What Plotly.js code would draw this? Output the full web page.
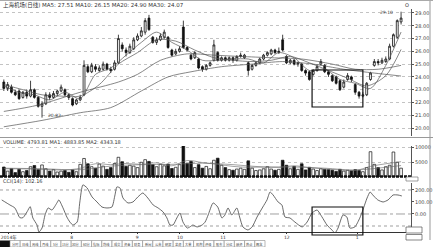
<!DOCTYPE html>
<html><head><meta charset="utf-8">
<script src="https://cdn.plot.ly/plotly-3.0.1.min.js"></script>
<style>html,body{margin:0;padding:0;background:#fff;}#chart{width:433px;height:247px;}</style>
</head><body><div id="chart"></div>
<script>
// ---- data ----
const openP = [23.6,23.1,23.2,22.8,22.9,22.4,22.8,22.5,23.0,22.4,
21.7,21.9,22.6,22.4,22.7,22.9,23.0,22.6,22.3,21.9,
22.2,22.6,24.8,24.4,24.8,24.5,24.6,25.0,24.6,24.6,
25.1,26.5,26.1,25.9,26.2,26.9,27.2,27.5,28.6,27.1,
26.7,26.9,27.1,27.1,26.1,25.8,26.0,27.9,26.3,25.7,
25.5,25.4,24.8,24.6,24.9,25.3,25.9,25.3,25.5,25.3,
25.5,25.3,25.6,25.5,25.1,24.6,24.9,25.1,25.4,25.7,
25.8,26.1,25.9,26.9,25.6,25.1,25.3,25.0,25.0,24.5,
24.4,24.2,24.5,25.0,24.9,24.4,24.1,24.0,23.7,23.2,
23.8,24.0,23.4,22.8,22.5,22.6,23.8,24.9,25.2,25.1,
25.2,25.4,26.4,27.1,28.3];
const highP = [23.8,23.6,23.4,23.0,23.0,22.9,23.0,23.7,23.1,22.5,
22.1,22.8,22.8,22.9,23.0,23.4,23.1,22.7,22.4,22.3,
22.6,25.3,25.0,25.1,25.0,24.9,25.2,25.1,24.8,25.3,
27.3,26.7,26.3,26.6,27.1,27.4,27.9,28.6,28.85,27.2,
27.1,27.4,27.7,27.2,26.2,26.2,26.4,28.4,26.4,25.8,
26.0,25.5,24.9,25.0,25.2,26.9,26.0,25.6,25.6,25.6,
25.6,25.7,25.9,25.8,25.2,25.0,25.2,25.5,25.8,26.0,
26.2,26.2,26.3,27.3,25.7,25.4,25.4,25.2,25.1,24.6,
24.5,24.6,25.0,25.4,25.0,24.5,24.2,24.1,23.8,23.8,
24.3,24.1,23.5,22.9,22.8,23.6,24.4,25.4,25.4,25.5,
25.6,26.6,27.4,28.5,29.1];
const lowP = [22.9,22.9,22.7,22.5,22.2,22.3,22.3,22.4,22.3,21.6,
20.82,21.8,22.2,22.3,22.5,22.8,22.5,22.2,21.7,21.8,
22.1,22.5,24.3,24.3,24.4,24.4,24.5,24.5,24.3,24.5,
25.0,26.0,25.6,25.8,26.1,26.8,27.1,27.3,27.6,26.6,
26.5,26.8,27.0,26.2,25.6,25.7,25.9,26.2,26.0,25.3,
25.4,24.6,24.4,24.5,24.8,25.2,25.2,25.2,25.2,25.2,
25.1,25.2,25.5,25.4,24.1,24.5,24.8,25.0,25.3,25.6,
25.7,25.8,25.8,26.0,25.0,25.0,24.9,24.8,24.4,24.1,
23.7,24.1,24.4,24.9,24.3,24.0,23.6,23.4,22.9,23.1,
23.7,23.6,22.6,22.3,22.4,22.5,23.7,24.8,24.9,25.0,
25.1,25.3,26.3,27.0,28.1];
const closeP = [23.1,23.4,22.8,22.6,22.3,22.8,22.5,23.0,22.4,21.7,
21.9,22.6,22.4,22.7,22.9,23.2,22.6,22.4,21.8,22.2,
22.4,24.9,24.4,24.9,24.6,24.7,25.0,24.6,24.5,25.1,
27.0,26.2,25.9,26.4,26.9,27.2,27.6,28.4,27.7,26.7,
26.9,27.2,27.5,26.3,25.7,26.0,26.2,26.3,26.1,25.4,
25.9,24.7,24.6,24.9,25.1,26.5,25.3,25.5,25.3,25.5,
25.3,25.6,25.7,25.7,24.5,24.9,25.1,25.4,25.7,25.9,
26.1,25.9,26.0,26.1,25.1,25.3,25.0,25.1,24.5,24.3,
23.8,24.5,24.8,25.2,24.4,24.2,23.7,23.5,23.0,23.6,
24.1,23.8,22.8,22.5,22.6,23.5,24.3,25.2,25.1,25.3,
25.4,26.4,27.3,28.4,28.6];
const volume = [3400,2000,2800,1500,2600,1800,2200,3500,3900,2500,
4100,2800,2000,2500,1700,2000,2200,1600,2400,1800,
4300,6300,4500,3500,3000,4400,3700,2600,3200,4600,
6700,5200,3600,4000,3700,3200,5000,5900,5300,4200,
3500,4300,3800,4400,2900,3300,4200,10900,4600,5300,
3200,4200,3000,3600,2800,5700,6400,4000,3200,2500,
2300,2700,3000,2600,5500,3000,2200,2400,2800,3500,
2700,2300,2600,5700,4000,2800,3600,2600,4500,2400,
3300,2700,2200,2800,2600,2500,2300,1900,2600,2000,
2300,2100,2500,2200,1800,3200,8600,4300,3200,2400,
3500,4000,8500,5000,3000];

const ma5Idx = [0,4,8,12,16,20,24,28,32,36,40,44,48,52,56,60,64,68,72,76,80,84,88,92,96,100,104];
const ma5Val = [23.3,22.8,22.6,22.2,22.8,22.3,24.2,24.7,25.7,26.7,27.5,26.7,26.1,25.3,25.3,25.4,25.4,25.1,25.9,25.5,24.5,24.6,23.8,23.5,23.1,24.9,27.51];
const ma10Idx = [0,5,10,15,20,25,30,35,40,45,50,55,60,65,70,75,80,85,90,95,100,104];
const ma10Val = [23.4,23.0,22.6,22.5,22.5,23.4,25.0,25.9,26.9,26.8,26.1,25.5,25.3,25.2,25.3,25.6,25.1,24.5,23.9,23.3,24.1,26.15];
const ma20Idx = [0,9,20,30,35,41,48,55,62,70,78,86,92,98,104];
const ma20Val = [21.3,21.8,22.8,23.6,24.2,25.3,25.8,25.7,25.6,25.5,25.4,25.0,24.6,24.6,24.90];
const ma30Idx = [0,10,20,28,36,43,49,57,65,73,81,89,97,104];
const ma30Val = [20.1,20.6,21.2,21.6,22.9,24.0,24.4,24.8,25.0,25.2,25.0,24.6,24.3,24.07];

const volMa1Idx = [0,8,16,20,24,28,32,36,40,44,48,52,56,60,64,68,72,76,80,84,88,92,96,100,104];
const volMa1Val = [2800,2700,2400,3000,4500,4200,4600,4300,4800,3800,5600,4900,4300,3600,3300,3400,3300,3800,3200,2700,2400,2200,3600,4500,5200];
const volMa2Idx = [0,10,20,28,36,44,52,60,68,76,84,92,100,104];
const volMa2Val = [3000,2800,2500,3700,4200,4300,4700,4200,3400,3400,3000,2400,3300,3900];

const oscIdx = [-0.55,1.6,2.9,4.2,5.0,6.1,6.9,7.6,8.7,9.2,10.0,10.8,11.6,12.6,13.9,14.4,15.5,16.5,17.3,18.1,19.2,19.9,20.7,21.8,23.1,24.4,25.7,27.0,28.3,29.1,29.6,30.4,31.2,32.5,33.8,35.1,36.4,37.7,39.1,40.4,41.7,42.7,43.5,44.3,45.3,46.1,46.9,48.0,48.7,49.5,50.6,51.9,52.7,53.5,54.8,56.0,57.1,57.9,58.7,59.7,61.0,61.8,62.6,63.9,65.0,66.3,67.8,68.9,69.7,70.5,71.8,72.8,73.6,74.9,76.2,78.1,79.4,80.7,82.0,83.3,84.6,85.9,86.7,87.5,88.8,89.8,90.6,91.9,93.2,94.0,95.1,95.9,96.6,97.9,99.3,100.6,101.9,103.2,104.2];
const oscVal = [117,75,50,-31,-31,19,61,-33,-92,-150,-117,-8,50,33,92,117,50,-25,-67,-92,-67,100,242,217,142,100,58,50,58,158,225,217,133,92,100,142,175,133,75,50,17,-33,-92,-92,-33,8,-67,-117,-108,-92,-108,-92,-67,-8,92,58,-33,-8,50,-8,50,-33,-108,-133,-108,-25,58,117,183,158,100,75,-25,-33,-67,-108,-67,8,33,-25,-92,-133,-158,-117,-8,-25,-117,-108,-33,33,133,183,158,117,100,117,158,158,150];

const priceTicks = [20,21,22,23,24,25,26,27,28,29];
const monthTickIdx = [1.3,17.8,34.9,46.1,57.4,74.1,92.5];
const monthTickText = ['2014年','8','9','10','11','12','1'];
const tabLabels = ['分时','日线','周线','月线','5分','15分','30分','60分','指标','均线','成交','资金','财务','新闻','公告','研报','龙虎','大单','机构','评级','股东','分红','融资','热点','概念'];

const titleText = '上海机场(日线) MA5: 27.51 MA10: 26.15 MA20: 24.90 MA30: 24.07';
const volTitle = 'VOLUME: 4793.81 MA1: 4883.85 MA2: 4343.18';
const oscTitle = 'CCI(14): 102.16';

// ---- drawing ----
const W = 433, H = 247;
const py = p => 1 - p / H;
const pxp = p => p / W;
const idx = closeP.map((_, i) => i);
const FONT = 'DejaVu Sans, Noto Sans CJK SC';

const traces = [];
traces.push({
  type: 'candlestick', x: idx, open: openP, high: highP, low: lowP, close: closeP,
  xaxis: 'x', yaxis: 'y', whiskerwidth: 0,
  increasing: {line: {color: '#111', width: 0.8}, fillcolor: '#ffffff'},
  decreasing: {line: {color: '#111', width: 0.8}, fillcolor: '#111111'},
  hoverinfo: 'skip'
});
[[ma5Idx, ma5Val], [ma10Idx, ma10Val], [ma20Idx, ma20Val], [ma30Idx, ma30Val]].forEach(([xi, v]) => {
  traces.push({type: 'scatter', mode: 'lines', x: xi, y: v, xaxis: 'x', yaxis: 'y',
    line: {color: '#555', width: 0.7, shape: 'spline', smoothing: 0.8}, hoverinfo: 'skip'});
});
traces.push({
  type: 'bar', x: idx, y: volume, xaxis: 'x', yaxis: 'y2',
  marker: {color: closeP.map((c, i) => c >= openP[i] ? '#ffffff' : '#111111'), line: {color: '#111', width: 0.7}},
  hoverinfo: 'skip'
});
[[volMa1Idx, volMa1Val], [volMa2Idx, volMa2Val]].forEach(([xi, v]) => {
  traces.push({type: 'scatter', mode: 'lines', x: xi, y: v, xaxis: 'x', yaxis: 'y2',
    line: {color: '#666', width: 0.6, shape: 'spline'}, hoverinfo: 'skip'});
});
traces.push({type: 'scatter', mode: 'lines', x: oscIdx, y: oscVal, xaxis: 'x', yaxis: 'y3',
  line: {color: '#444', width: 0.8, shape: 'spline', smoothing: 0.6}, hoverinfo: 'skip'});

const shapes = [];
const annotations = [];
shapes.push({type: 'line', xref: 'paper', yref: 'paper', x0: 0, x1: pxp(433), y0: py(137.5), y1: py(137.5), line: {color: '#999', width: 1}});
shapes.push({type: 'line', xref: 'paper', yref: 'paper', x0: 0, x1: pxp(411), y0: py(176.5), y1: py(176.5), line: {color: '#111', width: 2.5, dash: '3px,1px'}});
shapes.push({type: 'line', xref: 'paper', yref: 'paper', x0: pxp(430), x1: pxp(430), y0: py(0), y1: py(240), line: {color: '#999', width: 1}});
shapes.push({type: 'line', xref: 'paper', yref: 'paper', x0: 0, x1: 1, y0: py(0.5), y1: py(0.5), line: {color: '#aaa', width: 1}});
[[200, 'dot'], [-100, 'dot'], [0, 'dashdot']].forEach(([v, d]) => {
  shapes.push({type: 'line', xref: 'paper', yref: 'y3', x0: 0, x1: pxp(411), y0: v, y1: v, line: {color: '#777', width: 0.7, dash: d}});
});
shapes.push({type: 'rect', xref: 'x', yref: 'paper', x0: 80.7, x1: 94.0, y0: py(107), y1: py(70), line: {color: '#111', width: 1.2}, fillcolor: 'rgba(0,0,0,0)'});
shapes.push({type: 'rect', xref: 'x', yref: 'paper', x0: 80.7, x1: 94.0, y0: py(235), y1: py(207), line: {color: '#111', width: 1.2}, fillcolor: 'rgba(0,0,0,0)'});
// bottom tab bar
shapes.push({type: 'rect', xref: 'paper', yref: 'paper', layer: 'below', x0: 0, x1: pxp(10), y0: py(247), y1: py(240.5), fillcolor: '#111', line: {width: 0}});
tabLabels.forEach((t, k) => {
  const x0 = 10 + k * 10.2, x1 = x0 + 10.2;
  shapes.push({type: 'rect', xref: 'paper', yref: 'paper', layer: 'below', x0: pxp(x0), x1: pxp(x1), y0: py(247), y1: py(240.5), line: {color: '#888', width: 0.6}, fillcolor: '#fff'});
  annotations.push({xref: 'paper', yref: 'paper', x: pxp((x0 + x1) / 2), y: py(244.2), text: t, showarrow: false, font: {size: 3.2, color: '#444', family: 'Noto Sans CJK SC'}, xanchor: 'center', yanchor: 'middle'});
});
shapes.push({type: 'rect', xref: 'paper', yref: 'paper', x0: pxp(406), x1: pxp(422), y0: py(233), y1: py(227), line: {color: '#555', width: 0.7}, fillcolor: '#fff'});
shapes.push({type: 'rect', xref: 'paper', yref: 'paper', x0: pxp(406), x1: pxp(422), y0: py(240), y1: py(234.5), line: {color: '#555', width: 0.7}, fillcolor: '#fff'});
shapes.push({type: 'rect', xref: 'paper', yref: 'paper', x0: pxp(406), x1: pxp(418), y0: py(181), y1: py(177), line: {color: '#777', width: 0.7}, fillcolor: '#fff'});

const txt = (x, y, t, size, anchor) => annotations.push({xref: 'paper', yref: 'paper', x: pxp(x), y: py(y), text: t, showarrow: false,
  font: {size: size, color: '#333', family: FONT}, xanchor: anchor || 'left', yanchor: 'middle'});
txt(1, 5, titleText, 5.5);
txt(1, 142, volTitle, 5);
txt(1, 181, oscTitle, 5);
txt(403, 5, 'O', 5);
annotations.push({xref: 'x', yref: 'y', x: 10, y: lowP[10], text: lowP[10].toFixed(2), showarrow: false, xanchor: 'left', yanchor: 'middle', xshift: 4, yshift: 2, font: {size: 4.5, color: '#333', family: FONT}});
annotations.push({xref: 'x', yref: 'y', x: 104, y: highP[104], text: highP[104].toFixed(2), showarrow: false, xanchor: 'right', yanchor: 'middle', xshift: -6, yshift: -1, font: {size: 4.5, color: '#333', family: FONT}});

const axFont = {size: 5, color: '#444', family: FONT};
const layout = {
  width: W, height: H, margin: {l: 0, r: 0, t: 0, b: 0},
  paper_bgcolor: '#fff', plot_bgcolor: '#fff', showlegend: false,
  font: {family: FONT, size: 5, color: '#333'},
  bargap: 0.3,
  xaxis: {domain: [0, pxp(411)], range: [-1, 106.6], anchor: 'y3', rangeslider: {visible: false},
    tickvals: monthTickIdx, ticktext: monthTickText, ticks: 'outside', ticklen: 1, tickcolor: '#333',
    ticklabeloverflow: 'allow',
    tickfont: {size: 4.5, color: '#333', family: FONT}, showgrid: false, zeroline: false, showline: true, linecolor: '#333', linewidth: 1},
  yaxis: {domain: [py(136), py(9)], range: [19.38, 29.31], anchor: 'x', side: 'right',
    tickvals: priceTicks, ticktext: priceTicks.map(v => v.toFixed(2)), ticks: 'outside', ticklen: 2, tickcolor: '#555',
    tickfont: axFont, showgrid: true, gridcolor: '#aaa', griddash: 'dot', gridwidth: 0.7, zeroline: false,
    showline: true, linecolor: '#555', linewidth: 1},
  yaxis2: {domain: [py(177), py(146)], range: [0, 10540], anchor: 'x', side: 'right',
    tickvals: [5000, 10000], ticktext: ['5000', '10000'], ticks: 'outside', ticklen: 2, tickcolor: '#555',
    tickfont: axFont, showgrid: true, gridcolor: '#aaa', griddash: 'dot', gridwidth: 0.7, zeroline: false,
    showline: true, linecolor: '#555', linewidth: 1},
  yaxis3: {domain: [py(232), py(183)], range: [-150, 258], anchor: 'x', side: 'right',
    tickvals: [0, 100, 200], ticktext: ['0.00', '100.00', '200.00'], ticks: 'outside', ticklen: 2, tickcolor: '#555',
    tickfont: axFont, showgrid: false, zeroline: false, showline: true, linecolor: '#555', linewidth: 1},
  shapes: shapes, annotations: annotations
};
Plotly.newPlot('chart', traces, layout, {staticPlot: true, displayModeBar: false});
</script></body></html>
